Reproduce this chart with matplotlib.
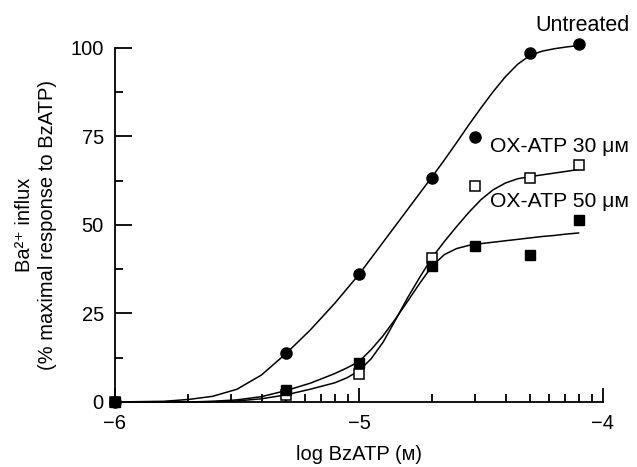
import numpy as np
import matplotlib
matplotlib.use("Agg")
import matplotlib.pyplot as plt

plt.rcParams['font.family'] = ['Liberation Sans', 'DejaVu Sans']

# measured points (log molar BzATP)
log_conc = [-6.0, -5.301, -5.0, -4.699, -4.523, -4.301, -4.097]
untreated = [0.0, 13.8, 36.0, 63.2, 74.8, 98.5, 101.0]
ox30 = [0.0, 2.0, 7.9, 40.6, 61.0, 63.2, 67.0]
ox50 = [0.0, 3.4, 11.0, 38.4, 44.0, 41.5, 51.4]

# fitted curves
fit_x = [-6.0, -5.8, -5.7, -5.6, -5.5, -5.4, -5.3, -5.2, -5.1, -5.05, -5.0,
         -4.95, -4.9, -4.85, -4.8, -4.75, -4.7, -4.65, -4.6, -4.55, -4.5,
         -4.45, -4.4, -4.35, -4.3, -4.25, -4.2, -4.15, -4.1]
fit_untreated = [0.0, 0.2, 0.7, 1.6, 3.6, 7.6, 13.6, 20.3, 27.8, 31.9, 36.0,
                 40.6, 45.2, 49.8, 54.4, 59.0, 63.6, 68.3, 73.2, 78.2, 83.0,
                 87.6, 91.8, 95.3, 97.8, 99.0, 99.7, 100.2, 100.6]
fit_ox30 = [0.0, 0.0, 0.0, 0.1, 0.3, 0.9, 2.0, 3.6, 5.4, 6.8, 8.8,
            12.2, 17.0, 23.2, 29.5, 35.3, 40.8, 45.3, 49.5, 53.5, 57.1,
            59.9, 61.8, 63.0, 63.6, 64.1, 64.6, 65.1, 65.6]
fit_ox50 = [0.0, 0.0, 0.0, 0.2, 0.6, 1.5, 3.2, 5.3, 8.0, 9.6, 11.4,
            14.8, 18.8, 23.5, 28.5, 33.6, 38.4, 41.6, 43.3, 44.2, 44.7,
            45.1, 45.5, 45.9, 46.3, 46.7, 47.0, 47.4, 47.7]

fig = plt.figure(figsize=(6.37, 4.67), dpi=100)
ax = fig.add_axes([0.1805, 0.1392, 0.7661, 0.7587])

ax.plot(fit_x, fit_untreated, color="black", lw=1.1, clip_on=False)
ax.plot(fit_x, fit_ox30, color="black", lw=1.1, clip_on=False)
ax.plot(fit_x, fit_ox50, color="black", lw=1.1, clip_on=False)

ax.plot(log_conc, ox30, "s", ms=6.5, mfc="white", mec="black", mew=1.1,
        clip_on=False, zorder=3)
ax.plot(log_conc, ox50, "s", ms=6.5, color="black", clip_on=False, zorder=3)
ax.plot(log_conc, untreated, "o", ms=8, color="black", clip_on=False, zorder=4)

ax.text(-4.279, 106.4, "Untreated", fontsize=15.5, va="center", ha="left")
ax.text(-4.462, 72.0, "OX-ATP 30 μᴍ", fontsize=15.2, va="center", ha="left")
ax.text(-4.462, 56.5, "OX-ATP 50 μᴍ", fontsize=15.2, va="center", ha="left")

ax.set_xlim(-6, -4)
ax.set_ylim(0, 100)
ax.set_xticks([-6, -5, -4])
ax.set_xticks([d + np.log10(k) for d in (-6, -5) for k in range(2, 10)], minor=True)
ax.set_yticks([0, 25, 50, 75, 100])
ax.set_yticks([12.5, 37.5, 62.5, 87.5], minor=True)

for s in ("top", "right"):
    ax.spines[s].set_visible(False)
for s in ("left", "bottom"):
    ax.spines[s].set_linewidth(1.3)

ax.tick_params(axis="y", which="major", direction="in", length=12, width=1.3,
               labelsize=14.5, pad=8)
ax.tick_params(axis="y", which="minor", direction="in", length=6, width=1.3)
ax.tick_params(axis="x", which="major", direction="in", length=10, width=1.3,
               labelsize=14.5, pad=9)
ax.tick_params(axis="x", which="minor", direction="in", length=6, width=1.3)

ax.set_xlabel("log BzATP (ᴍ)", fontsize=14.5, labelpad=8)
ax.set_ylabel("Ba²⁺ influx\n(% maximal response to BzATP)", fontsize=14.5,
              labelpad=10, linespacing=1.25)

fig.savefig("out.png", dpi=100)
